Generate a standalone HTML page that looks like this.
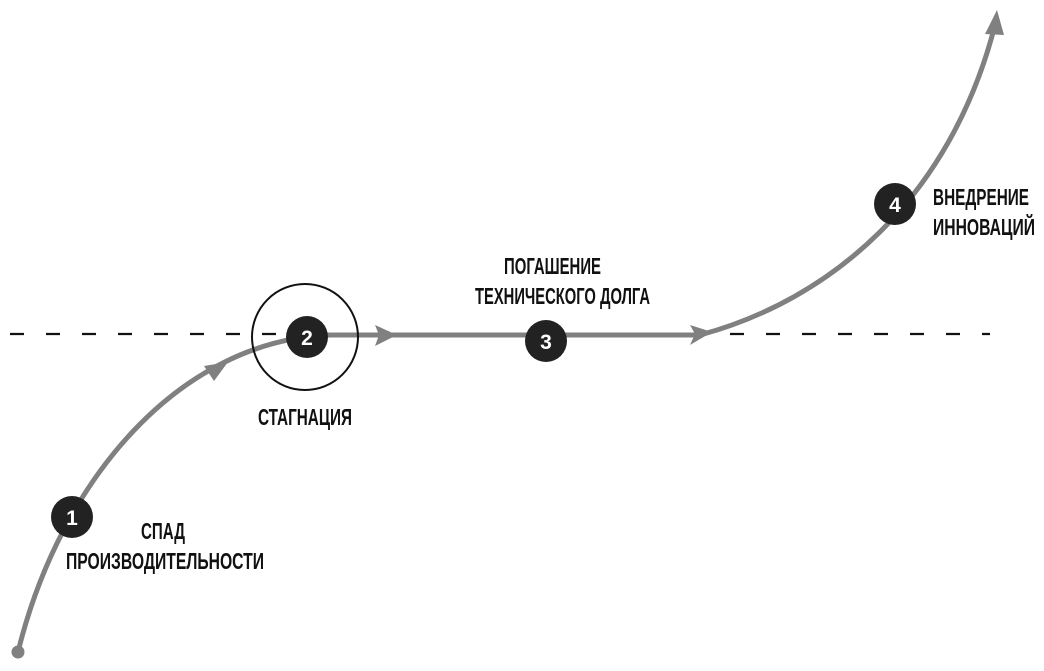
<!DOCTYPE html>
<html><head><meta charset="utf-8"><style>
html,body{margin:0;padding:0;background:#fff;}
svg{display:block;}
text{font-family:"Liberation Sans Narrow","Liberation Sans","DejaVu Sans Condensed",sans-serif;font-weight:bold;font-size:23px;fill:#111;}
.n{fill:#fff;font-size:21px;font-family:"Liberation Sans","DejaVu Sans",sans-serif;}
</style></head><body>
<svg width="1044" height="671" viewBox="0 0 1044 671" xmlns="http://www.w3.org/2000/svg">
<line x1="10" y1="334" x2="990" y2="334" stroke="#111" stroke-width="2.2" stroke-dasharray="14,22"/>
<path d="M18,652 C60,480 180,340 330,335 L700,335 C830,300 950,200 995,25" fill="none" stroke="#808080" stroke-width="5"/>
<circle cx="18" cy="652" r="6.5" fill="#808080"/>
<polygon points="228,362 204,366 214,381" fill="#808080"/>
<polygon points="397,335 375,325 379,335 375,346" fill="#808080"/>
<polygon points="712,332 690,325 695,334 690,345" fill="#808080"/>
<polygon points="997,10 985,34 1004,35" fill="#808080"/>
<circle cx="305" cy="337" r="53" fill="none" stroke="#111" stroke-width="2"/>
<circle cx="72" cy="517" r="21" fill="#222"/>
<circle cx="307" cy="337" r="21" fill="#222"/>
<circle cx="546" cy="341" r="21" fill="#222"/>
<circle cx="895" cy="204" r="21" fill="#222"/>
<text class="n" x="72" y="525" text-anchor="middle">1</text>
<text class="n" x="307" y="345" text-anchor="middle">2</text>
<text class="n" x="546" y="349" text-anchor="middle">3</text>
<text class="n" x="895" y="212" text-anchor="middle">4</text>
<text x="141" y="539" textLength="44" lengthAdjust="spacingAndGlyphs">СПАД</text>
<text x="66" y="569" textLength="198" lengthAdjust="spacingAndGlyphs">ПРОИЗВОДИТЕЛЬНОСТИ</text>
<text x="258" y="425" textLength="94" lengthAdjust="spacingAndGlyphs">СТАГНАЦИЯ</text>
<text x="504" y="274" textLength="97" lengthAdjust="spacingAndGlyphs">ПОГАШЕНИЕ</text>
<text x="475" y="304" textLength="175" lengthAdjust="spacingAndGlyphs">ТЕХНИЧЕСКОГО ДОЛГА</text>
<text x="933" y="205" textLength="96" lengthAdjust="spacingAndGlyphs">ВНЕДРЕНИЕ</text>
<text x="933" y="235" textLength="102" lengthAdjust="spacingAndGlyphs">ИННОВАЦИЙ</text>
</svg>
</body></html>
